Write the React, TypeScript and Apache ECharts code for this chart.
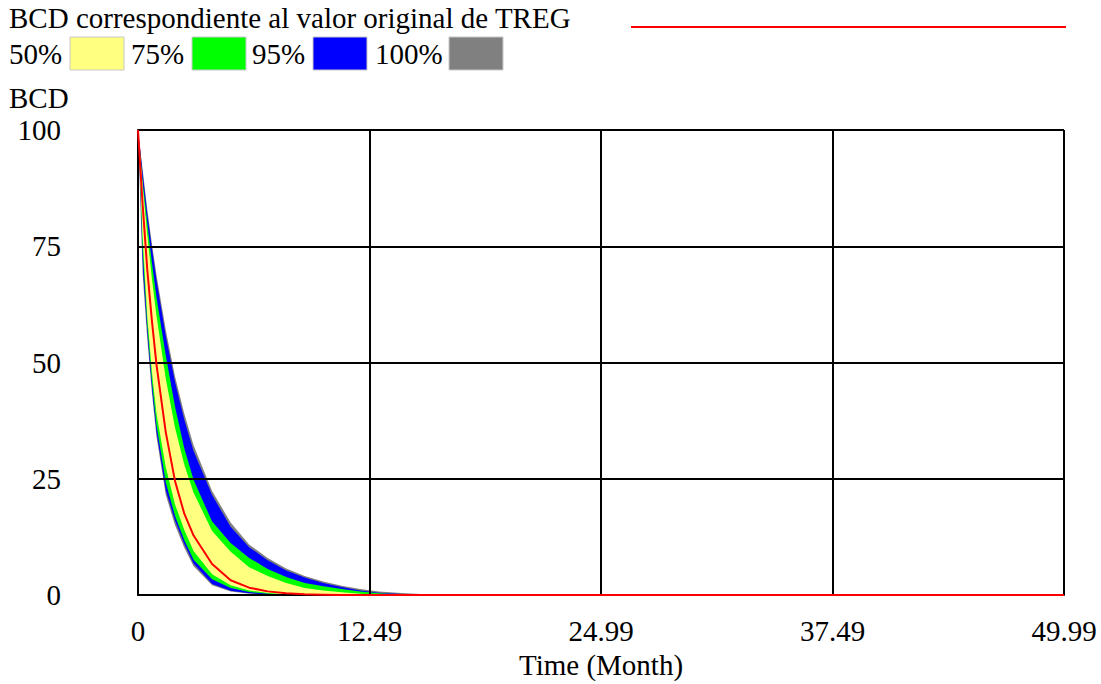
import React, { useEffect, useRef } from "react";
import * as echarts from "echarts";

const times = [0, 0.25, 0.5, 0.75, 1, 1.5, 2, 2.5, 3, 4, 5, 6, 7, 8, 9, 10, 11, 12, 13, 14, 15, 16, 17, 20, 30, 40, 49.99];
const upper100 = [100, 91.5, 83, 75.6, 68.8, 57, 47, 39, 32.2, 22.4, 15.6, 10.9, 8, 5.7, 4.1, 2.9, 2.0, 1.3, 0.8, 0.5, 0.3, 0.1, 0, 0, 0, 0, 0];
const upper95 = [100, 90.7, 82, 74.6, 67.7, 55.7, 45.8, 37.7, 31, 21.5, 14.7, 10.3, 7.5, 5.3, 3.8, 2.6, 1.75, 1.0, 0.5, 0.3, 0.1, 0, 0, 0, 0, 0, 0];
const upper75 = [100, 89, 80, 71.5, 64, 51.5, 40.5, 31.5, 24.8, 15.8, 11.2, 8.0, 5.6, 3.9, 2.6, 1.9, 1.3, 0.8, 0.4, 0.2, 0, 0, 0, 0, 0, 0, 0];
const upper50 = [100, 88, 77.5, 68, 60, 46.5, 36, 28, 22, 13.8, 9.3, 6.0, 4.1, 2.6, 1.5, 1.0, 0.6, 0.3, 0.1, 0, 0, 0, 0, 0, 0, 0, 0];
const lower50 = [100, 77, 60, 48, 39, 27.5, 19.5, 14, 9.5, 4.5, 2.1, 1.0, 0.45, 0.2, 0, 0, 0, 0, 0, 0, 0, 0, 0, 0, 0, 0, 0];
const lower75 = [100, 74, 58, 46, 36.5, 24.2, 17, 11.8, 7.6, 3.4, 1.5, 0.65, 0.3, 0.1, 0, 0, 0, 0, 0, 0, 0, 0, 0, 0, 0, 0, 0];
const lower95 = [100, 71, 56.5, 44.5, 35, 22.5, 16, 11, 6.8, 2.4, 0.95, 0.4, 0.1, 0, 0, 0, 0, 0, 0, 0, 0, 0, 0, 0, 0, 0, 0];
const lower100 = [100, 69, 55, 43.5, 34, 21.5, 15, 10.2, 6.2, 2.1, 0.8, 0.3, 0.1, 0, 0, 0, 0, 0, 0, 0, 0, 0, 0, 0, 0, 0, 0];
const original = [100, 84, 70, 59, 49.5, 35, 24.5, 17.5, 12.8, 6.7, 3.2, 1.6, 0.8, 0.4, 0.2, 0.1, 0, 0, 0, 0, 0, 0, 0, 0, 0, 0, 0];

const xTickLabels = ["0", "12.49", "24.99", "37.49", "49.99"];
const legendLabels = ["50%", "75%", "95%", "100%"];
const legendColors = ["#ffff80", "#00ff00", "#0000ff", "#808080"];
const titleText = "BCD correspondiente al valor original de TREG";

const FONT = "'Liberation Serif', 'Times New Roman', serif";
const FS = 29;

export default function App() {
  const ref = useRef<HTMLDivElement>(null);
  useEffect(() => {
    const chart = echarts.init(ref.current!, null, { renderer: "svg", width: 1101, height: 684 });
    const pts = (arr: number[]) => times.map((t, i) => [t, arr[i]]);
    const band = (name: string, arr: number[], color: string) => ({
      name,
      type: "line",
      data: pts(arr),
      showSymbol: false,
      symbol: "none",
      silent: true,
      lineStyle: { width: 0, opacity: 0 },
      itemStyle: { color },
      areaStyle: { color, opacity: 1 },
      z: 1,
    });
    const legendTextX = [9, 131, 252, 375];
    const legendBoxX = [70, 192, 313, 449];
    const graphics: any[] = [
      {
        type: "text",
        x: 9,
        y: 17.5,
        style: { text: titleText, fontSize: FS, fontFamily: FONT, fill: "#000", verticalAlign: "middle" },
      },
      {
        type: "line",
        shape: { x1: 631, y1: 27, x2: 1066, y2: 27 },
        style: { stroke: "#ff0000", lineWidth: 2 },
      },
      {
        type: "text",
        x: 9,
        y: 97.5,
        style: { text: "BCD", fontSize: FS, fontFamily: FONT, fill: "#000", verticalAlign: "middle" },
      },
    ];
    legendLabels.forEach((lab, i) => {
      graphics.push({
        type: "text",
        x: legendTextX[i],
        y: 53.5,
        style: { text: lab, fontSize: FS, fontFamily: FONT, fill: "#000", verticalAlign: "middle" },
      });
      graphics.push({
        type: "rect",
        shape: { x: legendBoxX[i], y: 37, width: 54, height: 33 },
        style: { fill: legendColors[i], stroke: "#c8c8c8", lineWidth: 1 },
      });
    });
    chart.setOption({
      animation: false,
      backgroundColor: "#ffffff",
      grid: { left: 138, right: 37, top: 130, bottom: 79, containLabel: false },
      xAxis: {
        type: "value",
        min: 0,
        max: 49.99,
        interval: 12.4975,
        z: 5,
        name: "Time (Month)",
        nameLocation: "middle",
        nameGap: 48,
        nameTextStyle: { fontSize: FS, fontFamily: FONT, color: "#000" },
        axisLine: { show: true, lineStyle: { color: "#000", width: 2 } },
        axisTick: { show: false },
        splitLine: { show: true, lineStyle: { color: "#000", width: 2 } },
        axisLabel: {
          fontSize: FS,
          fontFamily: FONT,
          color: "#000",
          margin: 21,
          formatter: (_v: number, idx: number) => xTickLabels[idx] ?? "",
        },
      },
      yAxis: {
        type: "value",
        min: 0,
        max: 100,
        interval: 25,
        z: 5,
        axisLine: { show: true, lineStyle: { color: "#000", width: 2 } },
        axisTick: { show: false },
        splitLine: { show: true, lineStyle: { color: "#000", width: 2 } },
        axisLabel: {
          fontSize: FS,
          fontFamily: FONT,
          color: "#000",
          margin: 77,
          padding: [8, 0, 0, 0],
        },
      },
      graphic: graphics,
      series: [
        band("100% upper", upper100, "#808080"),
        band("95% upper", upper95, "#0000ff"),
        band("75% upper", upper75, "#00ff00"),
        band("50% upper", upper50, "#ffff80"),
        band("50% lower", lower50, "#00ff00"),
        band("75% lower", lower75, "#0000ff"),
        band("95% lower", lower95, "#808080"),
        band("100% lower", lower100, "#ffffff"),
        {
          name: titleText,
          type: "line",
          data: pts(original),
          showSymbol: false,
          symbol: "none",
          lineStyle: { color: "#ff0000", width: 2 },
          itemStyle: { color: "#ff0000" },
          z: 6,
        },
      ],
    });
    return () => chart.dispose();
  }, []);
  return <div ref={ref} style={{ position: "fixed", left: 0, top: 0, width: 1101, height: 684 }} />;
}
